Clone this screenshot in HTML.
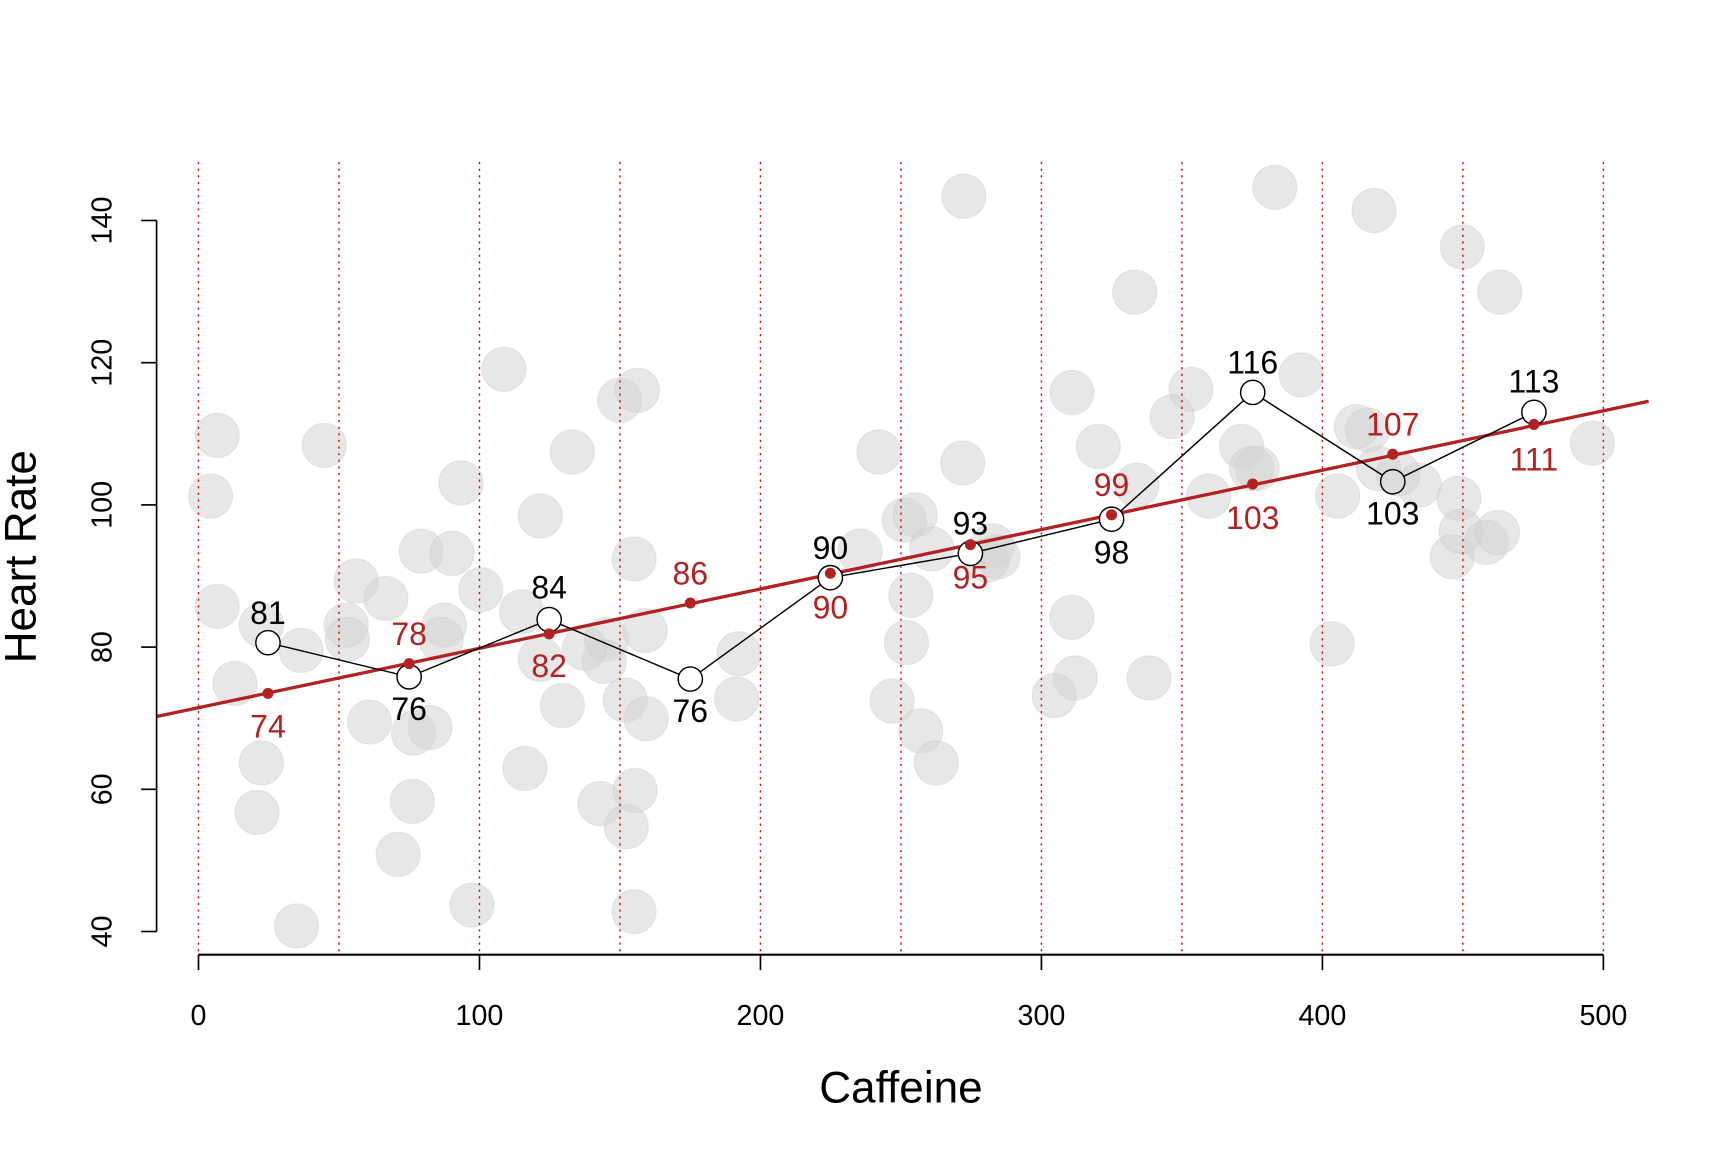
<!DOCTYPE html>
<html><head><meta charset="utf-8"><style>html,body{margin:0;padding:0;background:#fff}svg{display:block}</style></head>
<body>
<svg width="1728" height="1152" viewBox="0 0 1567 1045" preserveAspectRatio="none" xmlns="http://www.w3.org/2000/svg" font-family="Liberation Sans, Arial, sans-serif">
<rect width="1567" height="1045" fill="#fff"/>
<g fill="#d3d3d3" fill-opacity="0.55" stroke="#c8c8c8" stroke-opacity="0.4">
<circle cx="197" cy="395" r="20"/><circle cx="191" cy="450" r="20"/><circle cx="197" cy="550" r="20"/><circle cx="213" cy="620" r="20"/><circle cx="237" cy="567" r="20"/><circle cx="273" cy="590" r="20"/><circle cx="237" cy="692" r="20"/><circle cx="233" cy="737" r="20"/><circle cx="269" cy="840" r="20"/><circle cx="294" cy="404" r="20"/><circle cx="323" cy="527" r="20"/><circle cx="314" cy="567" r="20"/><circle cx="350" cy="543" r="20"/><circle cx="335" cy="655" r="20"/><circle cx="382" cy="500" r="20"/><circle cx="410" cy="502" r="20"/><circle cx="403" cy="567" r="20"/><circle cx="375" cy="665" r="20"/><circle cx="390" cy="660" r="20"/><circle cx="374" cy="727" r="20"/><circle cx="361" cy="775" r="20"/><circle cx="418" cy="438" r="20"/><circle cx="436" cy="535" r="20"/><circle cx="428" cy="821" r="20"/><circle cx="457" cy="335" r="20"/><circle cx="490" cy="468" r="20"/><circle cx="473" cy="555" r="20"/><circle cx="476" cy="697" r="20"/><circle cx="510" cy="640" r="20"/><circle cx="490" cy="598" r="20"/><circle cx="519" cy="410" r="20"/><circle cx="550" cy="580" r="20"/><circle cx="544" cy="729" r="20"/><circle cx="562" cy="363" r="20"/><circle cx="578" cy="354" r="20"/><circle cx="575" cy="507" r="20"/><circle cx="585" cy="572" r="20"/><circle cx="567" cy="635" r="20"/><circle cx="586" cy="652" r="20"/><circle cx="576" cy="717" r="20"/><circle cx="568" cy="750" r="20"/><circle cx="575" cy="827" r="20"/><circle cx="670" cy="593" r="20"/><circle cx="668" cy="634" r="20"/><circle cx="780" cy="500" r="20"/><circle cx="797" cy="410" r="20"/><circle cx="809" cy="636" r="20"/><circle cx="820" cy="472" r="20"/><circle cx="830" cy="467" r="20"/><circle cx="826" cy="540" r="20"/><circle cx="822" cy="583" r="20"/><circle cx="835" cy="663" r="20"/><circle cx="849" cy="692" r="20"/><circle cx="845" cy="498" r="20"/><circle cx="874" cy="178" r="20"/><circle cx="873" cy="420" r="20"/><circle cx="895" cy="508" r="20"/><circle cx="972" cy="356" r="20"/><circle cx="972" cy="560" r="20"/><circle cx="975" cy="615" r="20"/><circle cx="956" cy="631" r="20"/><circle cx="1042" cy="615" r="20"/><circle cx="996" cy="405" r="20"/><circle cx="1029" cy="265" r="20"/><circle cx="1031" cy="440" r="20"/><circle cx="1080" cy="353" r="20"/><circle cx="1063" cy="378" r="20"/><circle cx="1096" cy="450" r="20"/><circle cx="1126" cy="405" r="20"/><circle cx="1140" cy="425" r="20"/><circle cx="1156" cy="170" r="20"/><circle cx="1180" cy="340" r="20"/><circle cx="1208" cy="584" r="20"/><circle cx="1213" cy="450" r="20"/><circle cx="1246" cy="191" r="20"/><circle cx="1240" cy="390" r="20"/><circle cx="1268" cy="430" r="20"/><circle cx="1287" cy="440" r="20"/><circle cx="1326" cy="224" r="20"/><circle cx="1323" cy="452" r="20"/><circle cx="1317" cy="505" r="20"/><circle cx="1325" cy="482" r="20"/><circle cx="1348" cy="492" r="20"/><circle cx="1358" cy="483" r="20"/><circle cx="1360" cy="265" r="20"/><circle cx="1444" cy="402" r="20"/><circle cx="1230" cy="387" r="20"/><circle cx="1250" cy="425" r="20"/><circle cx="1135" cy="425" r="20"/><circle cx="900" cy="495" r="20"/><circle cx="905" cy="505" r="20"/><circle cx="548" cy="600" r="20"/><circle cx="530" cy="588" r="20"/><circle cx="400" cy="580" r="20"/><circle cx="315" cy="580" r="20"/>
</g>
<g stroke="#cc1111" stroke-width="1.3" stroke-dasharray="2,4">
<line x1="180" y1="147" x2="180" y2="866"/><line x1="307.4" y1="147" x2="307.4" y2="866"/><line x1="434.8" y1="147" x2="434.8" y2="866"/><line x1="562.2" y1="147" x2="562.2" y2="866"/><line x1="689.6" y1="147" x2="689.6" y2="866"/><line x1="817" y1="147" x2="817" y2="866"/><line x1="944.4" y1="147" x2="944.4" y2="866"/><line x1="1071.8" y1="147" x2="1071.8" y2="866"/><line x1="1199.2" y1="147" x2="1199.2" y2="866"/><line x1="1326.6" y1="147" x2="1326.6" y2="866"/><line x1="1454" y1="147" x2="1454" y2="866"/>
</g>
<line x1="142" y1="650" x2="1495" y2="364" stroke="#b22222" stroke-width="3"/>
<polyline fill="none" stroke="#000" stroke-width="1.3" points="243,583 371,614 498,562 626,616 753,524 880,502 1008,471 1136,356 1263,437 1391,374"/>
<g fill="#fff" stroke="#000" stroke-width="1.3">
<circle cx="243" cy="583" r="11"/><circle cx="371" cy="614" r="11"/><circle cx="498" cy="562" r="11"/><circle cx="626" cy="616" r="11"/><circle cx="753" cy="524" r="11"/><circle cx="880" cy="502" r="11"/><circle cx="1008" cy="471" r="11"/><circle cx="1136" cy="356" r="11"/><circle cx="1263" cy="437" r="11" fill="#ddd"/><circle cx="1391" cy="374" r="11"/>
</g>
<g fill="#b22222">
<circle cx="243" cy="629" r="5"/><circle cx="371" cy="602" r="5"/><circle cx="498" cy="575" r="5"/><circle cx="626" cy="547" r="5"/><circle cx="753" cy="520" r="5"/><circle cx="880" cy="494" r="5"/><circle cx="1008" cy="467" r="5"/><circle cx="1136" cy="439" r="5"/><circle cx="1263" cy="412" r="5"/><circle cx="1391" cy="385" r="5"/>
</g>
<g font-size="29" text-anchor="middle" fill="#000">
<text x="243" y="566">81</text><text x="371" y="653">76</text><text x="498" y="543">84</text><text x="626" y="655">76</text><text x="753" y="507">90</text><text x="880" y="485">93</text><text x="1008" y="511">98</text><text x="1136" y="339">116</text><text x="1263" y="476">103</text><text x="1391" y="356">113</text>
</g>
<g font-size="29" text-anchor="middle" fill="#b22222">
<text x="243" y="669">74</text><text x="371" y="585">78</text><text x="498" y="614">82</text><text x="626" y="530">86</text><text x="753" y="561">90</text><text x="880" y="534">95</text><text x="1008" y="450">99</text><text x="1136" y="480">103</text><text x="1263" y="395">107</text><text x="1391" y="427">111</text>
</g>
<g stroke="#000" stroke-width="1.5" fill="none">
<line x1="180" y1="866" x2="1454" y2="866" stroke-width="2"/>
<line x1="180" y1="866" x2="180" y2="880"/><line x1="434.8" y1="866" x2="434.8" y2="880"/><line x1="689.6" y1="866" x2="689.6" y2="880"/><line x1="944.4" y1="866" x2="944.4" y2="880"/><line x1="1199.2" y1="866" x2="1199.2" y2="880"/><line x1="1454" y1="866" x2="1454" y2="880"/>
<line x1="142" y1="200" x2="142" y2="845"/>
<line x1="128" y1="200" x2="142" y2="200"/><line x1="128" y1="329" x2="142" y2="329"/><line x1="128" y1="458" x2="142" y2="458"/><line x1="128" y1="587" x2="142" y2="587"/><line x1="128" y1="716" x2="142" y2="716"/><line x1="128" y1="845" x2="142" y2="845"/>
</g>
<g font-size="26" text-anchor="middle" fill="#000">
<text x="180" y="930">0</text><text x="434.8" y="930">100</text><text x="689.6" y="930">200</text><text x="944.4" y="930">300</text><text x="1199.2" y="930">400</text><text x="1454" y="930">500</text>
<text transform="translate(101,200) rotate(-90)">140</text><text transform="translate(101,329) rotate(-90)">120</text><text transform="translate(101,458) rotate(-90)">100</text><text transform="translate(101,587) rotate(-90)">80</text><text transform="translate(101,716) rotate(-90)">60</text><text transform="translate(101,845) rotate(-90)">40</text>
</g>
<text x="817" y="1000" font-size="40" text-anchor="middle">Caffeine</text>
<text transform="translate(32,505) rotate(-90)" font-size="40" text-anchor="middle">Heart Rate</text>
</svg>
</body></html>
